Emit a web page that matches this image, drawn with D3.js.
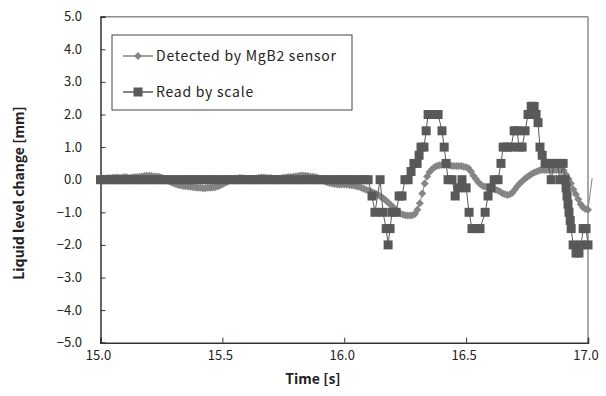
<!DOCTYPE html>
<html>
<head>
<meta charset="utf-8">
<script src="https://cdn.jsdelivr.net/npm/d3@7"></script>
<style>
  html, body { margin: 0; padding: 0; background: #fff; }
  svg { display: block; }
</style>
</head>
<body>
<svg id="chart" width="606" height="396"></svg>
<script>
// ---- data -------------------------------------------------------------
// MgB2 sensor reading, sampled every 0.01 s from 15.00 s to 17.00 s
const sensorStart = 15.0;
const sensorStep = 0.01;
const sensorLevel = [
  0.03, 0.04, 0.04, 0.05, 0.05, 0.06, 0.07, 0.07, 0.06, 0.07,
  0.08, 0.07, 0.06, 0.07, 0.08, 0.08, 0.09, 0.10, 0.11, 0.12,
  0.12, 0.11, 0.10, 0.10, 0.09, 0.07, 0.04, 0.00, -0.04, -0.08,
  -0.11, -0.14, -0.16, -0.18, -0.19, -0.20, -0.21, -0.22, -0.23, -0.24,
  -0.25, -0.25, -0.26, -0.26, -0.25, -0.25, -0.24, -0.23, -0.21, -0.18,
  -0.14, -0.10, -0.06, -0.02, 0.01, 0.03, 0.04, 0.05, 0.05, 0.04,
  0.03, 0.02, 0.01, 0.02, 0.04, 0.06, 0.07, 0.07, 0.06, 0.05,
  0.05, 0.04, 0.04, 0.03, 0.04, 0.06, 0.07, 0.08, 0.08, 0.09,
  0.10, 0.11, 0.12, 0.13, 0.12, 0.11, 0.10, 0.09, 0.08, 0.06,
  0.03, -0.01, -0.05, -0.08, -0.10, -0.12, -0.13, -0.14, -0.15, -0.15,
  -0.15, -0.15, -0.16, -0.17, -0.18, -0.20, -0.22, -0.25, -0.28, -0.31,
  -0.34, -0.37, -0.40, -0.43, -0.47, -0.52, -0.57, -0.63, -0.70, -0.77,
  -0.84, -0.92, -0.99, -1.04, -1.07, -1.09, -1.10, -1.10, -1.09, -1.05,
  -0.92, -0.72, -0.42, -0.12, 0.10, 0.24, 0.32, 0.38, 0.42, 0.44,
  0.45, 0.45, 0.45, 0.44, 0.43, 0.42, 0.42, 0.42, 0.42, 0.40,
  0.38, 0.35, 0.25, 0.12, 0.02, -0.08, -0.15, -0.20, -0.22, -0.24,
  -0.25, -0.27, -0.30, -0.33, -0.37, -0.42, -0.45, -0.47, -0.45, -0.40,
  -0.30, -0.20, -0.12, -0.05, 0.02, 0.08, 0.13, 0.18, 0.22, 0.25,
  0.28, 0.30, 0.30, 0.30, 0.30, 0.30, 0.30, 0.30, 0.30, 0.30,
  0.28, 0.15, 0.02, -0.12, -0.30, -0.45, -0.60, -0.75, -0.85, -0.90,
  -0.92
];
// last logged sensor sample, just past the end of the axis
const sensorTail = { time: 17.017, level: 0.05 };

// Level read by eye from the scale
const scaleTime = [
  15.00, 15.02, 15.04, 15.06, 15.08, 15.10, 15.12, 15.14, 15.16, 15.18,
  15.20, 15.22, 15.24, 15.26, 15.28, 15.30, 15.32, 15.34, 15.36, 15.38,
  15.40, 15.42, 15.44, 15.46, 15.48, 15.50, 15.52, 15.54, 15.56, 15.58,
  15.60, 15.62, 15.64, 15.66, 15.68, 15.70, 15.72, 15.74, 15.76, 15.78,
  15.80, 15.82, 15.84, 15.86, 15.88, 15.90, 15.92, 15.94, 15.96, 15.98,
  16.00, 16.02, 16.04, 16.06, 16.08,
  16.098, 16.114, 16.126, 16.147, 16.159, 16.172, 16.180, 16.188, 16.196, 16.213,
  16.225, 16.237, 16.249, 16.262, 16.274, 16.286, 16.299, 16.307, 16.315, 16.327,
  16.336, 16.344, 16.364, 16.385, 16.401, 16.410, 16.418, 16.426, 16.442, 16.455,
  16.467, 16.483, 16.500, 16.512, 16.524, 16.541, 16.557, 16.578, 16.590, 16.602,
  16.615, 16.631, 16.643, 16.652, 16.668, 16.684, 16.697, 16.709, 16.717, 16.730,
  16.742, 16.754, 16.767, 16.779, 16.787, 16.795, 16.803, 16.812, 16.824, 16.836,
  16.849, 16.861, 16.873, 16.886, 16.898, 16.906, 16.910, 16.914, 16.918, 16.922,
  16.927, 16.931, 16.939, 16.951, 16.963, 16.972, 16.980, 16.992, 17.000
];
const scaleLevel = [
  0, 0, 0, 0, 0, 0, 0, 0, 0, 0,
  0, 0, 0, 0, 0, 0, 0, 0, 0, 0,
  0, 0, 0, 0, 0, 0, 0, 0, 0, 0,
  0, 0, 0, 0, 0, 0, 0, 0, 0, 0,
  0, 0, 0, 0, 0, 0, 0, 0, 0, 0,
  0, 0, 0, 0, 0,
  0, -0.5, -1.0, 0, -1.0, -1.5, -2.0, -1.5, -1.0, -1.0,
  -0.5, -0.5, 0, 0, 0.25, 0.5, 0.5, 0.75, 1.0, 1.0,
  1.5, 2.0, 2.0, 2.0, 1.5, 1.0, 0.5, 0, 0, -0.5,
  -0.25, 0, -0.25, -1.0, -1.5, -1.5, -1.5, -1.0, -0.5, -0.25,
  0, 0, 0.5, 1.0, 1.0, 1.0, 1.5, 1.5, 1.0, 1.0,
  1.5, 2.0, 2.25, 2.25, 2.0, 1.75, 1.0, 0.75, 0.5, 0.5,
  0, 0.5, 0.5, 0, 0.5, 0, -0.25, -0.5, -0.75, -1.0,
  -1.25, -1.5, -2.0, -2.25, -2.25, -2.0, -1.5, -1.5, -2.0
];

const xTicks = [15.0, 15.5, 16.0, 16.5, 17.0];
const yTicks = [5, 4, 3, 2, 1, 0, -1, -2, -3, -4, -5];
const seriesNames = ["Detected by MgB2 sensor", "Read by scale"];

// ---- layout -------------------------------------------------------------
const plot = { left: 100.5, right: 588, top: 16.7, bottom: 342.7 };
const sensorColor = "#858585";
const scaleColor = "#595959";
const fontFamily = "'Noto Sans CJK JP', 'Noto Sans', sans-serif";

const svg = d3.select("#chart");

const x = d3.scaleLinear().domain([15, 17]).range([plot.left, plot.right]);
const y = d3.scaleLinear().domain([-5, 5]).range([plot.bottom, plot.top]);

const sensorData = sensorLevel.map((v, i) => ({
  time: +(sensorStart + i * sensorStep).toFixed(3),
  level: v
}));
const scaleData = scaleTime.map((t, i) => ({ time: t, level: scaleLevel[i] }));

// frame: left/bottom dark, top/right lighter
svg.append("line")
  .attr("x1", plot.left).attr("x2", plot.right)
  .attr("y1", plot.top).attr("y2", plot.top)
  .attr("stroke", "#8c8c8c").attr("stroke-width", 1.5);
svg.append("line")
  .attr("x1", plot.right).attr("x2", plot.right)
  .attr("y1", plot.top).attr("y2", plot.bottom)
  .attr("stroke", "#8c8c8c").attr("stroke-width", 1.5);

// axes with inward ticks
const fmt = d => d3.format(".1f")(d).replace("-", "\u2212");

const yAxis = svg.append("g")
  .attr("transform", `translate(${plot.left},0)`)
  .call(d3.axisRight(y).tickValues(yTicks).tickSize(5).tickFormat(""));
yAxis.select(".domain").attr("stroke", "#333").attr("stroke-width", 1.5);
yAxis.selectAll(".tick line").attr("stroke", "#333");

const xAxis = svg.append("g")
  .attr("transform", `translate(0,${plot.bottom})`)
  .call(d3.axisTop(x).tickValues(xTicks).tickSize(5).tickFormat(""));
xAxis.select(".domain").attr("stroke", "#333").attr("stroke-width", 1.5);
xAxis.selectAll(".tick line").attr("stroke", "#333");

// tick labels
svg.append("g").selectAll("text")
  .data(yTicks).join("text")
  .attr("x", 82).attr("y", d => y(d))
  .attr("dy", "0.35em")
  .attr("text-anchor", "end")
  .attr("font-family", fontFamily).attr("font-size", 13)
  .attr("fill", "#222")
  .text(fmt);

svg.append("g").selectAll("text")
  .data(xTicks).join("text")
  .attr("x", d => x(d) - 2).attr("y", 360)
  .attr("text-anchor", "middle")
  .attr("font-family", fontFamily).attr("font-size", 13)
  .attr("fill", "#222")
  .text(fmt);

// axis titles
svg.append("text")
  .attr("x", 313).attr("y", 384)
  .attr("text-anchor", "middle")
  .attr("font-family", fontFamily).attr("font-size", 14).attr("font-weight", "bold")
  .attr("fill", "#222")
  .text("Time [s]");

svg.append("text")
  .attr("transform", "translate(24,193) rotate(-90)")
  .attr("text-anchor", "middle")
  .attr("font-family", fontFamily).attr("font-size", 14).attr("font-weight", "bold")
  .attr("fill", "#222")
  .text("Liquid level change [mm]");

// marker shapes
const diamond = r => `M0,${-r}L${r},0L0,${r}L${-r},0Z`;
const square = s => `M${-s / 2},${-s / 2}h${s}v${s}h${-s}Z`;

const line = d3.line().x(d => x(d.time)).y(d => y(d.level));

// sensor series
svg.append("path")
  .datum(sensorData.concat([sensorTail]))
  .attr("d", line)
  .attr("fill", "none")
  .attr("stroke", sensorColor)
  .attr("stroke-width", 1);

svg.append("g").selectAll("path")
  .data(sensorData).join("path")
  .attr("transform", d => `translate(${x(d.time)},${y(d.level)})`)
  .attr("d", diamond(4))
  .attr("fill", sensorColor);

// scale series
svg.append("path")
  .datum(scaleData)
  .attr("d", line)
  .attr("fill", "none")
  .attr("stroke", scaleColor)
  .attr("stroke-width", 1);

svg.append("g").selectAll("path")
  .data(scaleData).join("path")
  .attr("transform", d => `translate(${x(d.time)},${y(d.level)})`)
  .attr("d", square(9))
  .attr("fill", scaleColor);

// legend
const legend = svg.append("g");
legend.append("rect")
  .attr("x", 112).attr("y", 35).attr("width", 240).attr("height", 75)
  .attr("fill", "#fff").attr("stroke", "#444").attr("stroke-width", 1);

const legendItems = [
  { name: seriesNames[0], color: sensorColor, shape: diamond(4), yy: 56 },
  { name: seriesNames[1], color: scaleColor, shape: square(9), yy: 92 }
];
legendItems.forEach(it => {
  legend.append("line")
    .attr("x1", 123).attr("x2", 153).attr("y1", it.yy).attr("y2", it.yy)
    .attr("stroke", it.color).attr("stroke-width", 1.5);
  legend.append("path")
    .attr("transform", `translate(138,${it.yy})`)
    .attr("d", it.shape).attr("fill", it.color);
  legend.append("text")
    .attr("x", 156).attr("y", it.yy).attr("dy", "0.35em")
    .attr("font-family", fontFamily).attr("font-size", 14)
    .attr("letter-spacing", 0.75)
    .attr("fill", "#222")
    .text(it.name);
});
</script>
</body>
</html>
